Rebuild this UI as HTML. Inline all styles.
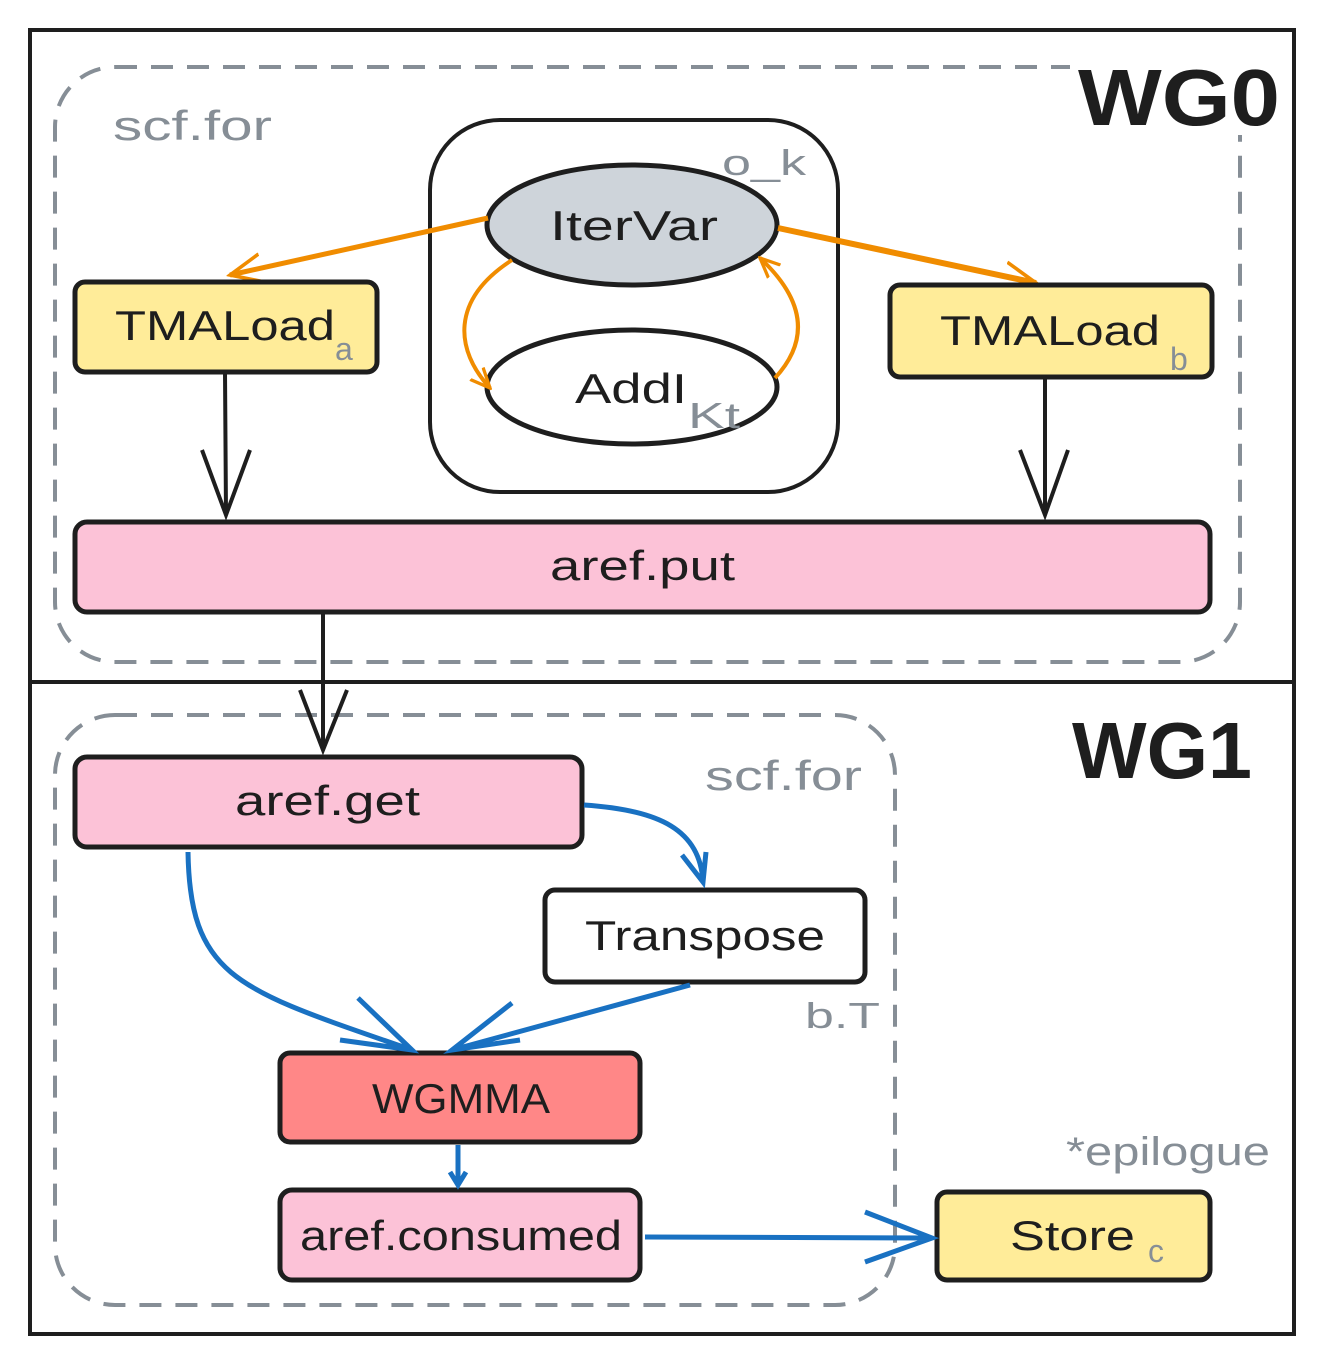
<!DOCTYPE html>
<html><head><meta charset="utf-8"><style>
html,body{margin:0;padding:0;background:#fff;}
svg{display:block;}
text{font-family:"Liberation Sans",sans-serif;}
</style></head><body>
<svg width="1324" height="1364" viewBox="0 0 1324 1364" xmlns="http://www.w3.org/2000/svg">
<defs>
<marker id="ao" viewBox="0 0 20 20" refX="18" refY="10" markerWidth="36" markerHeight="36" markerUnits="userSpaceOnUse" orient="auto"><path d="M0,2 L18,10 L0,18" fill="none" stroke="#f08c00" stroke-width="2"/></marker>
<marker id="as" viewBox="0 0 20 20" refX="18" refY="10" markerWidth="22" markerHeight="22" markerUnits="userSpaceOnUse" orient="auto"><path d="M0,2 L18,10 L0,18" fill="none" stroke="#f08c00" stroke-width="3"/></marker>
</defs>
<rect width="1324" height="1364" fill="#fff"/>
<rect x="30" y="30" width="1264" height="652" fill="none" stroke="#1e1e1e" stroke-width="4"/>
<rect x="30" y="682" width="1264" height="652" fill="none" stroke="#1e1e1e" stroke-width="4"/>
<rect x="55" y="67" width="1185" height="595" rx="60" fill="none" stroke="#868e96" stroke-width="4" stroke-dasharray="22 14"/>
<rect x="55" y="715" width="840" height="590" rx="60" fill="none" stroke="#868e96" stroke-width="4" stroke-dasharray="22 14"/>
<text x="113" y="140" font-size="42" fill="#868e96" textLength="159" lengthAdjust="spacingAndGlyphs">scf.for</text>
<text x="705" y="790" font-size="42" fill="#868e96" textLength="157" lengthAdjust="spacingAndGlyphs">scf.for</text>
<rect x="1070" y="60" width="215" height="75" fill="#fff"/>
<text x="1078" y="125" font-size="80" font-weight="bold" fill="#1e1e1e" textLength="202" lengthAdjust="spacingAndGlyphs">WG0</text>
<text x="1072" y="778" font-size="80" font-weight="bold" fill="#1e1e1e" textLength="180" lengthAdjust="spacingAndGlyphs">WG1</text>
<rect x="430" y="120" width="408" height="372" rx="70" fill="none" stroke="#1e1e1e" stroke-width="4"/>
<ellipse cx="632" cy="225" rx="145" ry="60" fill="#ced4da" stroke="#1e1e1e" stroke-width="5"/>
<text x="550" y="240" font-size="42" fill="#1e1e1e" textLength="168" lengthAdjust="spacingAndGlyphs">IterVar</text>
<text x="722" y="175" font-size="36" fill="#868e96" textLength="84" lengthAdjust="spacingAndGlyphs">o_k</text>
<ellipse cx="632" cy="387" rx="145" ry="57" fill="#fff" stroke="#1e1e1e" stroke-width="5"/>
<text x="575" y="403" font-size="42" fill="#1e1e1e" textLength="112" lengthAdjust="spacingAndGlyphs">AddI</text>
<text x="688" y="428" font-size="36" fill="#868e96" textLength="52" lengthAdjust="spacingAndGlyphs">Kt</text>
<path d="M488,218 L230,275" stroke="#f08c00" stroke-width="5" fill="none" marker-end="url(#ao)"/>
<path d="M778,228 L1036,283" stroke="#f08c00" stroke-width="6" fill="none" marker-end="url(#ao)"/>
<path d="M512,260 C450,300 455,350 490,388" stroke="#f08c00" stroke-width="4" fill="none" marker-end="url(#as)"/>
<path d="M775,378 C810,340 805,300 760,258" stroke="#f08c00" stroke-width="4" fill="none" marker-end="url(#as)"/>
<rect x="75" y="282" width="302" height="90" rx="10" fill="#ffec99" stroke="#1e1e1e" stroke-width="5"/>
<text x="115" y="340" font-size="42" fill="#1e1e1e" textLength="220" lengthAdjust="spacingAndGlyphs">TMALoad</text>
<text x="335" y="360" font-size="32" fill="#868e96">a</text>
<rect x="890" y="285" width="322" height="92" rx="10" fill="#ffec99" stroke="#1e1e1e" stroke-width="5"/>
<text x="940" y="345" font-size="42" fill="#1e1e1e" textLength="220" lengthAdjust="spacingAndGlyphs">TMALoad</text>
<text x="1170" y="370" font-size="32" fill="#868e96">b</text>
<g stroke="#1e1e1e" stroke-width="4" fill="none">
<path d="M225,372 L226,515 M202,450 L226,515 L250,450"/>
<path d="M1045,377 L1045,515 M1020,450 L1045,515 L1068,450"/>
<path d="M323,612 L323,750 M300,690 L323,750 L347,690"/>
</g>
<rect x="75" y="522" width="1135" height="90" rx="12" fill="#fcc2d7" stroke="#1e1e1e" stroke-width="5"/>
<text x="550" y="580" font-size="42" fill="#1e1e1e" textLength="185" lengthAdjust="spacingAndGlyphs">aref.put</text>
<rect x="75" y="757" width="507" height="90" rx="12" fill="#fcc2d7" stroke="#1e1e1e" stroke-width="5"/>
<text x="235" y="815" font-size="42" fill="#1e1e1e" textLength="185" lengthAdjust="spacingAndGlyphs">aref.get</text>
<rect x="545" y="890" width="320" height="92" rx="10" fill="#fff" stroke="#1e1e1e" stroke-width="5"/>
<text x="585" y="950" font-size="42" fill="#1e1e1e" textLength="240" lengthAdjust="spacingAndGlyphs">Transpose</text>
<text x="805" y="1028" font-size="36" fill="#868e96" textLength="75" lengthAdjust="spacingAndGlyphs">b.T</text>
<rect x="280" y="1053" width="360" height="89" rx="10" fill="#ff8787" stroke="#1e1e1e" stroke-width="5"/>
<text x="372" y="1113" font-size="42" fill="#1e1e1e" textLength="178" lengthAdjust="spacingAndGlyphs">WGMMA</text>
<rect x="280" y="1190" width="360" height="90" rx="12" fill="#fcc2d7" stroke="#1e1e1e" stroke-width="5"/>
<text x="300" y="1250" font-size="42" fill="#1e1e1e" textLength="322" lengthAdjust="spacingAndGlyphs">aref.consumed</text>
<rect x="937" y="1192" width="273" height="88" rx="10" fill="#ffec99" stroke="#1e1e1e" stroke-width="5"/>
<text x="1010" y="1250" font-size="42" fill="#1e1e1e" textLength="125" lengthAdjust="spacingAndGlyphs">Store</text>
<text x="1148" y="1262" font-size="32" fill="#868e96">c</text>
<text x="1066" y="1165" font-size="40" fill="#868e96" textLength="204" lengthAdjust="spacingAndGlyphs">*epilogue</text>
<g stroke="#1971c2" stroke-width="5" fill="none">
<path d="M584,805 C660,810 700,830 703,882 M682,855 L703,882 L706,852"/>
<path d="M188,852 C190,980 240,990 412,1050 M358,998 L412,1050 L340,1040"/>
<path d="M690,985 L452,1050 M512,1003 L452,1050 L520,1040"/>
<path d="M458,1145 L458,1185 M450,1172 L458,1185 L466,1172"/>
<path d="M645,1237 L932,1238 M865,1212 L932,1238 L865,1262"/>
</g>
</svg>
</body></html>
